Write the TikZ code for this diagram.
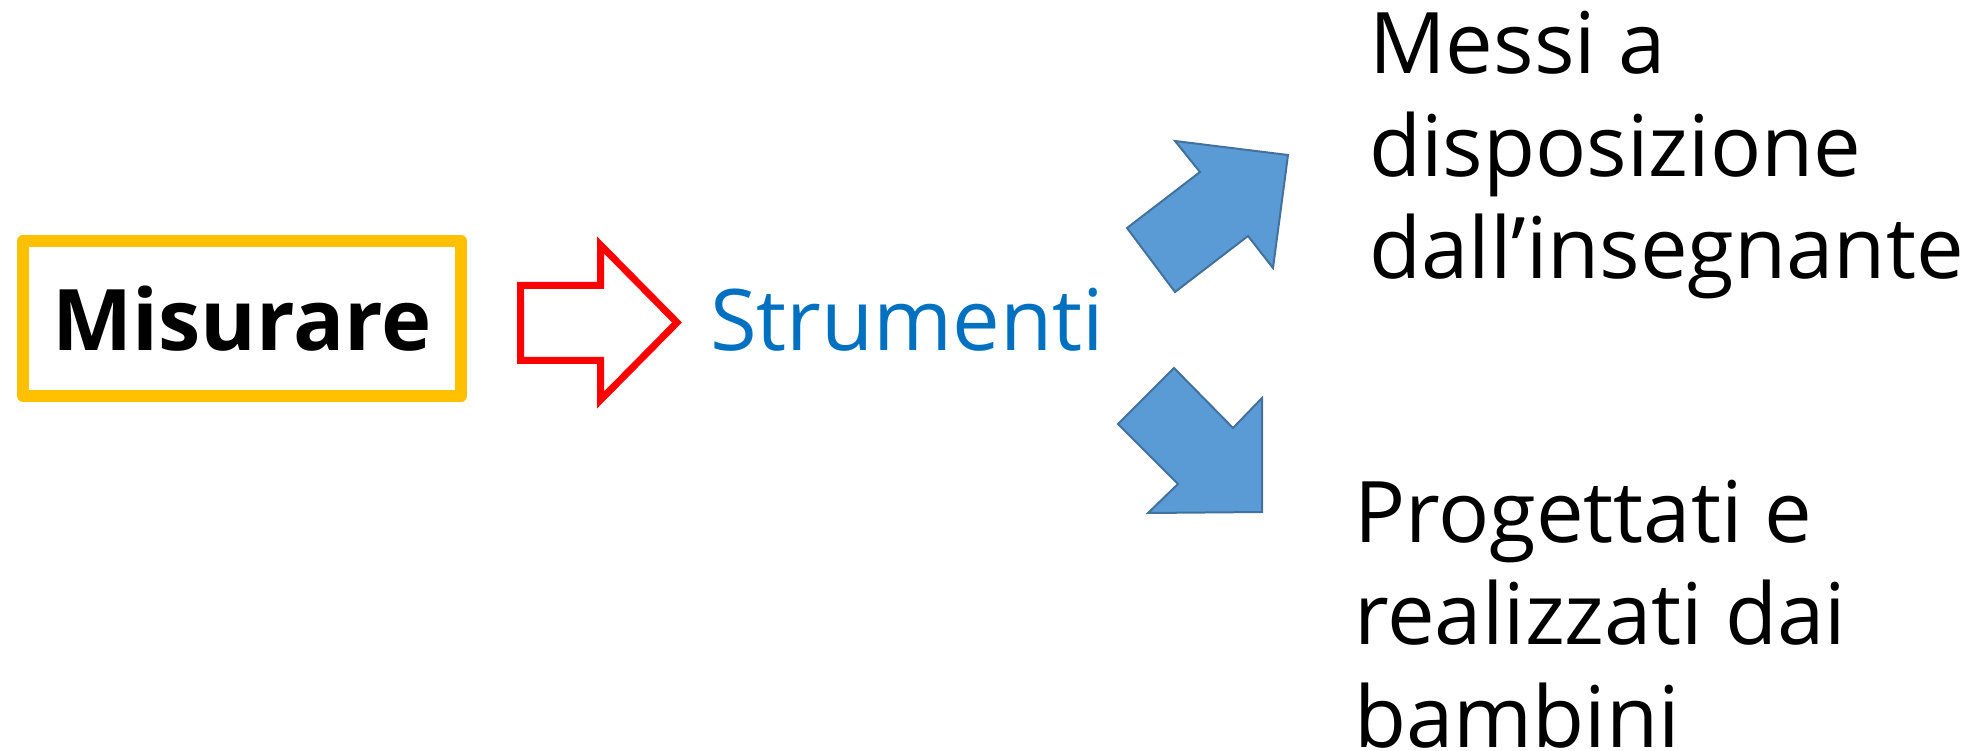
\documentclass[tikz,border=0pt]{standalone}
\usepackage{fontspec}
\setmainfont{Open Sans}
\usepackage{tikz}
\definecolor{boxyellow}{HTML}{FFC000}
\definecolor{textblue}{HTML}{0070C0}
\definecolor{arrowblue}{HTML}{5B9BD5}
\definecolor{arrowedge}{HTML}{41719C}

\begin{document}
\begin{tikzpicture}[x=1pt,y=-1pt,
  bigtext/.style={font=\fontsize{85}{102.5}\selectfont, inner sep=0pt},
  blockarrow/.style={fill=arrowblue, draw=arrowedge, line width=2pt, line join=miter}]
\useasboundingbox (0,0) rectangle (1974,751);
% box on the left
\node[bigtext, font=\fontsize{85}{103}\selectfont\bfseries, draw=boxyellow,
  line width=12pt, line join=round, minimum width=438pt, minimum height=155pt]
  (misurare) at (242,318.5) {Misurare};
% red outline arrow
\draw[red, line width=7pt, line join=miter] (520.5,285.5) -- (600.5,285.5) -- (600.5,245)
  -- (677,322.5) -- (600.5,400) -- (600.5,360.5) -- (520.5,360.5) -- cycle;
\node[bigtext, text=textblue, anchor=base west] (strumenti) at (710,351) {Strumenti};
% the two blue arrows
\draw[blockarrow] (1127,228) -- (1200,172) -- (1175,141) -- (1288,155)
  -- (1273,268) -- (1248,236) -- (1175,292) -- cycle;
\draw[blockarrow] (1174,368) -- (1233,428) -- (1262,398) -- (1262,512)
  -- (1148,513) -- (1178,484) -- (1118,424) -- cycle;
% texts on the right (base = last line)
\node[bigtext, anchor=base west, align=left] (messi) at (1369,279)
  {Messi a\\disposizione\\dall’insegnante};
\node[bigtext, anchor=base west, align=left] (progettati) at (1354,747)
  {Progettati e\\realizzati dai\\bambini};
\end{tikzpicture}
\end{document}
